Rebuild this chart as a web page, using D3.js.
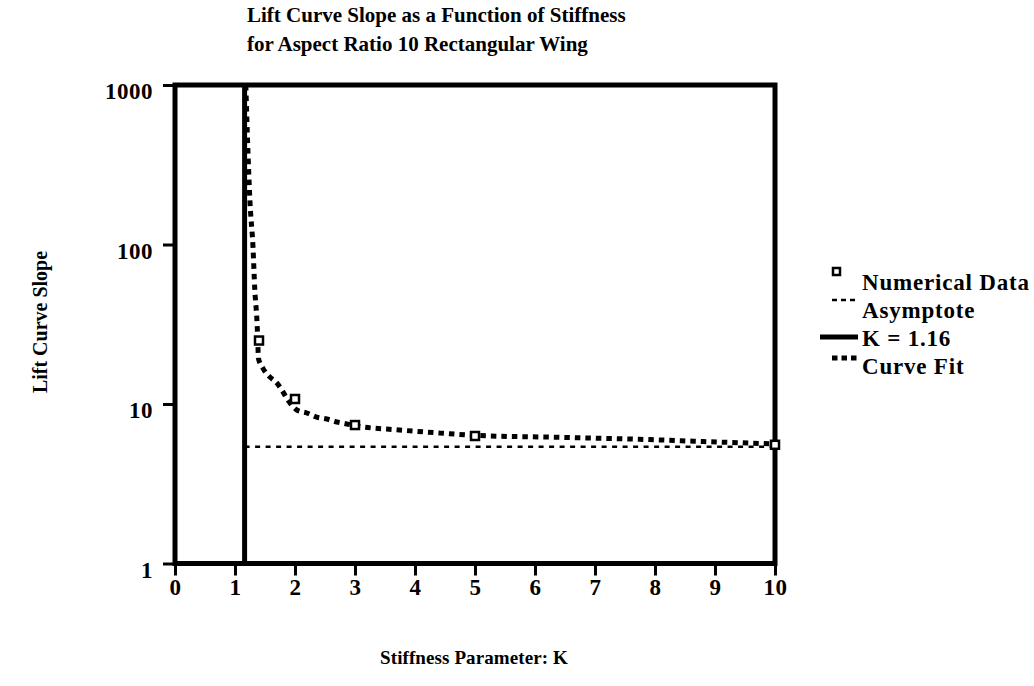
<!DOCTYPE html>
<html>
<head>
<meta charset="utf-8">
<script src="https://cdn.jsdelivr.net/npm/d3@7"></script>
<style>
  html, body { margin: 0; padding: 0; background: #fff; }
  svg text { font-family: "Liberation Serif", "Times New Roman", serif; font-weight: bold; fill: #000; }
</style>
</head>
<body>
<svg id="chart" width="1034" height="686"></svg>
<script>
// Stiffness parameter K for the computed points and their lift curve slopes
const dataK = [1.4, 2, 3, 5, 10];
const dataSlope = [25, 10.75, 7.38, 6.3, 5.55];

// Curve fit through the data
const fitK = [1.18, 1.215, 1.248, 1.30, 1.33, 1.365, 1.38, 1.39, 1.464, 1.58, 1.70, 1.80, 1.88,
              2.03, 2.20, 2.36, 2.53, 2.70, 2.86, 3.03, 3.74, 4.41, 5.0, 6.41, 7.74, 8.9, 10];
const fitSlope = [1000, 391, 190, 96, 52, 33.6, 24.9, 19.4, 16.8, 14.8, 13.5, 11.9, 10.6,
                  9.17, 8.78, 8.28, 8.05, 7.71, 7.50, 7.28, 6.87, 6.58, 6.36, 6.18, 6.01, 5.80, 5.62];

// Asymptotic slope and the critical stiffness
const asymptoteK = [1.16, 10];
const asymptoteValue = 5.4;
const criticalK = 1.16;

// Axis ticks
const xTicks = [0, 1, 2, 3, 4, 5, 6, 7, 8, 9, 10];
const yTicks = [1, 10, 100, 1000];

const legendLabels = ["Numerical Data", "Asymptote", "K = 1.16", "Curve Fit"];
const titleLines = ["Lift Curve Slope as a Function of Stiffness", "for Aspect Ratio 10 Rectangular Wing"];

const svg = d3.select("#chart");

const x = d3.scaleLinear().domain([0, 10]).range([175, 775]);
const y = d3.scaleLog().domain([1, 1000]).range([563.5, 85]);

// Title
svg.append("g").selectAll("text").data(titleLines).join("text")
  .attr("x", 247).attr("y", (d, i) => 22 + i * 29)
  .attr("font-size", 21)
  .text(d => d);

// Asymptote
svg.append("path")
  .datum(asymptoteK)
  .attr("d", d3.line().x(k => x(k)).y(() => y(asymptoteValue)))
  .attr("fill", "none").attr("stroke", "#000")
  .attr("stroke-width", 2.5).attr("stroke-dasharray", "5,5.5");

// Curve fit
svg.append("path")
  .datum(d3.zip(fitK, fitSlope))
  .attr("d", d3.line().x(d => x(d[0])).y(d => y(d[1])).curve(d3.curveMonotoneX))
  .attr("fill", "none").attr("stroke", "#000")
  .attr("stroke-width", 5).attr("stroke-dasharray", "5.5,5");

// K = 1.16 vertical line
svg.append("line")
  .attr("x1", x(criticalK)).attr("x2", x(criticalK))
  .attr("y1", y(1000)).attr("y2", y(1))
  .attr("stroke", "#000").attr("stroke-width", 5);

// Plot frame
svg.append("rect")
  .attr("x", x(0)).attr("y", y(1000))
  .attr("width", x(10) - x(0)).attr("height", y(1) - y(1000))
  .attr("fill", "none").attr("stroke", "#000").attr("stroke-width", 5);

// Axes
const xAxis = d3.axisBottom(x).tickValues(xTicks).tickFormat(d3.format("d"))
  .tickSize(12).tickPadding(0);
const gx = svg.append("g").attr("transform", `translate(0,${y(1)})`).call(xAxis);
gx.select(".domain").remove();
gx.selectAll(".tick line").attr("stroke", "#000").attr("stroke-width", 3);
gx.selectAll(".tick text").attr("font-size", 23).attr("letter-spacing", 0.5)
  .attr("font-family", "Liberation Serif").attr("dy", "0.85em");

const yAxis = d3.axisLeft(y).tickValues(yTicks).tickFormat(d3.format("d"))
  .tickSize(12).tickPadding(10);
const gy = svg.append("g").attr("transform", `translate(${x(0)},0)`).call(yAxis);
gy.select(".domain").remove();
gy.selectAll(".tick line").attr("stroke", "#000").attr("stroke-width", 3);
gy.selectAll(".tick text").attr("font-size", 23).attr("letter-spacing", 0.5)
  .attr("font-family", "Liberation Serif").attr("dy", "0.6em");

// Data markers
svg.append("g").selectAll("rect").data(d3.zip(dataK, dataSlope)).join("rect")
  .attr("x", d => x(d[0]) - 4).attr("y", d => y(d[1]) - 4)
  .attr("width", 8).attr("height", 8)
  .attr("fill", "#fff").attr("stroke", "#000").attr("stroke-width", 2.5);

// Axis titles
svg.append("text")
  .attr("transform", "translate(47,322) rotate(-90)")
  .attr("text-anchor", "middle").attr("font-size", 20)
  .text("Lift Curve Slope");
svg.append("text")
  .attr("x", 474).attr("y", 664)
  .attr("text-anchor", "middle").attr("font-size", 19).attr("letter-spacing", 0.1)
  .text("Stiffness Parameter: K");

// Legend
const lg = svg.append("g");
const rowY = [290, 318, 346, 374];
lg.selectAll("text").data(legendLabels).join("text")
  .attr("x", 862).attr("y", (d, i) => rowY[i])
  .attr("font-size", 23).attr("letter-spacing", 0.8)
  .text(d => d);
lg.append("rect").attr("x", 833).attr("y", 268).attr("width", 7).attr("height", 7)
  .attr("fill", "#fff").attr("stroke", "#000").attr("stroke-width", 2.5);
lg.append("line").attr("x1", 832).attr("x2", 858).attr("y1", 300).attr("y2", 300)
  .attr("stroke", "#000").attr("stroke-width", 2.5).attr("stroke-dasharray", "5,4");
lg.append("line").attr("x1", 820).attr("x2", 858).attr("y1", 337).attr("y2", 337)
  .attr("stroke", "#000").attr("stroke-width", 5);
lg.append("line").attr("x1", 832).attr("x2", 858).attr("y1", 358).attr("y2", 358)
  .attr("stroke", "#000").attr("stroke-width", 5).attr("stroke-dasharray", "5.5,4");
</script>
</body>
</html>
